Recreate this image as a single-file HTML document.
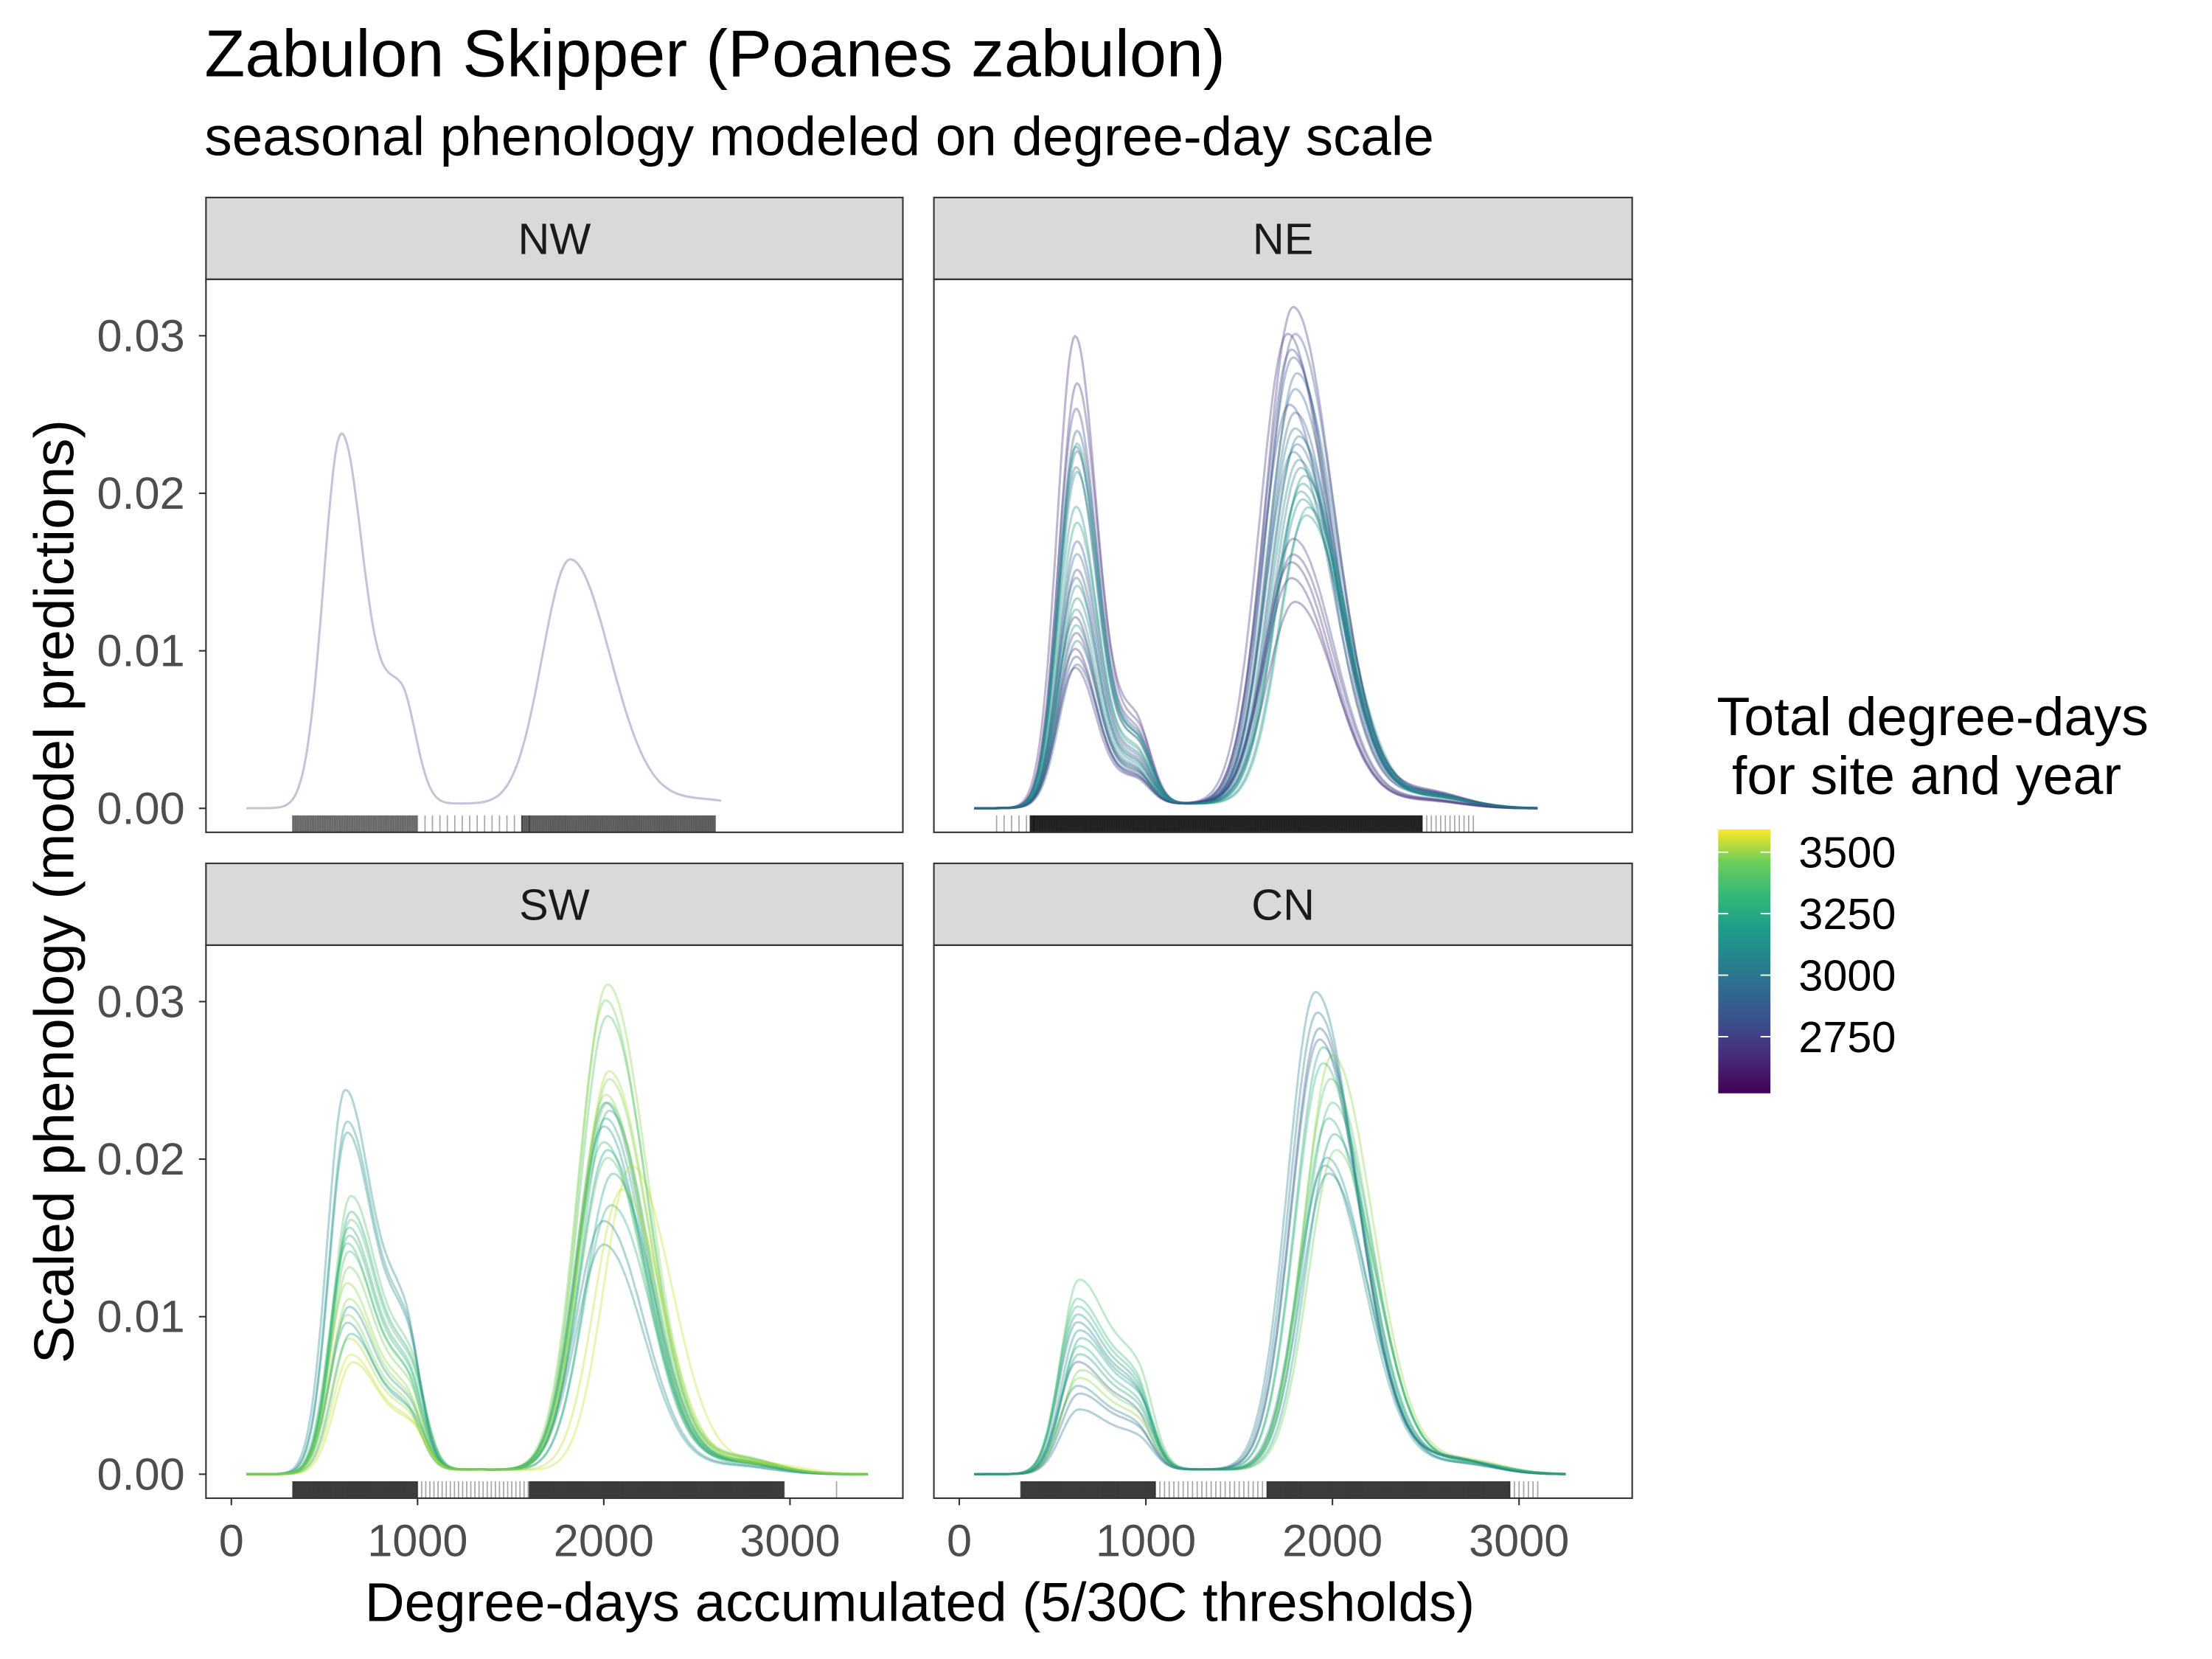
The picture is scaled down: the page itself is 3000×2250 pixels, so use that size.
<!DOCTYPE html>
<html><head><meta charset="utf-8"><style>
html,body{margin:0;padding:0;background:#fff}
svg{display:block}
text{font-family:"Liberation Sans",Arial,sans-serif}
</style></head><body>
<svg id="chart" width="3000" height="2250" viewBox="0 0 1568 1176" preserveAspectRatio="none" xmlns="http://www.w3.org/2000/svg">
<rect width="1568" height="1176" fill="#fff"/>
<text x="145" y="54" font-size="47" fill="#000">Zabulon Skipper (Poanes zabulon)</text>
<text x="145" y="110" font-size="39" fill="#000">seasonal phenology modeled on degree-day scale</text>
<text transform="translate(52,632) rotate(-90)" text-anchor="middle" font-size="40">Scaled phenology (model predictions)</text>
<text x="652" y="1149" text-anchor="middle" font-size="39">Degree-days accumulated (5/30C thresholds)</text>
<g id="panels"></g>
<g>
<text x="1217" y="521" font-size="38.5">Total degree-days</text>
<text x="1217" y="563" font-size="38.5" xml:space="preserve"> for site and year</text>
<defs><linearGradient id="vir" x1="0" y1="1" x2="0" y2="0">
<stop offset="0" stop-color="#440154"/><stop offset="0.13" stop-color="#482878"/><stop offset="0.25" stop-color="#3e4a89"/><stop offset="0.38" stop-color="#31688e"/><stop offset="0.5" stop-color="#26828e"/><stop offset="0.63" stop-color="#1f9e89"/><stop offset="0.75" stop-color="#35b779"/><stop offset="0.88" stop-color="#6ece58"/><stop offset="1" stop-color="#fde725"/></linearGradient></defs>
<rect x="1218" y="588" width="37" height="187" fill="url(#vir)"/>
<g id="cbticks"></g>
</g>
</svg>
<script>
const NS='http://www.w3.org/2000/svg';
const yTicks=[0,0.01,0.02,0.03];
const yTickLabels=['0.00','0.01','0.02','0.03'];
const xTicks=[0,1000,2000,3000];
const xTickLabels=['0','1000','2000','3000'];
const legendTicks=[2750,3000,3250,3500];
// NW
const nwVals=[2700];
const nwH1=[0.0236];const nwM1=[590];const nwH2=[0.0157];const nwM2=[1820];
// NE
const neVals=[2650,2700,2750,2800,2850,2900,2950,3000,3050,3100,2680,2720,2780,2820,2880,2920,2980,3020,3070,2660,2740,2860,2960,3040,3120,2700];
const neH1=[0.0298,0.0268,0.0252,0.0238,0.0228,0.0215,0.0225,0.0212,0.0190,0.0230,0.0120,0.0110,0.0150,0.0168,0.0145,0.0160,0.0132,0.0125,0.0140,0.0100,0.0095,0.0090,0.0105,0.0115,0.0180,0.0088];
const neM1=[620,630,625,630,625,625,630,630,625,630,620,625,630,630,625,630,630,625,630,620,625,630,630,625,630,620];
const neH2=[0.0130,0.0300,0.0290,0.0285,0.0265,0.0275,0.0240,0.0220,0.0200,0.0210,0.0155,0.0160,0.0255,0.0300,0.0225,0.0230,0.0215,0.0195,0.0185,0.0145,0.0170,0.0250,0.0235,0.0205,0.0190,0.0317];
const neM2=[1800,1760,1780,1790,1800,1810,1800,1820,1830,1850,1780,1790,1770,1800,1790,1810,1830,1840,1860,1780,1790,1800,1820,1840,1870,1790];
// SW
const swVals=[3000,3050,3100,3150,3200,3250,3300,3350,3400,3450,3500,3100,3200,3300,3400,3020,3150,3280,3380,3480];
const swH1=[0.0215,0.0105,0.0095,0.0165,0.0155,0.0145,0.0175,0.0130,0.0120,0.0085,0.0075,0.0222,0.0150,0.0160,0.0110,0.0242,0.0088,0.0140,0.0100,0.0070];
const swM1=[620,630,620,640,630,620,640,630,620,630,640,620,630,640,630,610,640,630,620,650];
const swH2=[0.0235,0.0145,0.0205,0.0225,0.0230,0.0210,0.0235,0.0300,0.0310,0.0255,0.0195,0.0220,0.0170,0.0200,0.0240,0.0160,0.0190,0.0290,0.0250,0.0180];
const swM2=[2010,2000,2020,2010,2030,2000,2020,2010,2020,2030,2150,2000,2040,2020,2010,2000,2050,2020,2030,2100];
// CN
const cnVals=[2850,2950,3000,3050,3100,3150,3200,3250,3300,3350,3400,3020,3120,3220,2900];
const cnH1=[0.0070,0.0040,0.0095,0.0090,0.0100,0.0085,0.0080,0.0110,0.0122,0.0065,0.0060,0.0055,0.0075,0.0105,0.0050];
const cnM1=[630,640,630,640,630,650,640,630,640,650,640,630,640,630,640];
const cnH2=[0.0282,0.0292,0.0305,0.0195,0.0200,0.0270,0.0225,0.0235,0.0250,0.0205,0.0265,0.0190,0.0215,0.0260,0.0275];
const cnM2=[1930,1920,1910,1960,1970,1950,1980,2000,1990,2020,2000,1980,2010,1950,1930];
// rug ranges [start,end,step]
const nwRug=[[330,1000,7],[1000,1600,40],[1560,2600,6]];
const neRug=[[200,400,40],[380,2480,3],[2480,2760,25]];
const swRug=[[330,1000,4],[1000,1600,22],[1600,2970,4],[3250,3260,20]];
const cnRug=[[330,1050,4],[1050,1650,25],[1650,2950,4],[2950,3110,25]];

const panels=[
 {name:'nw',label:'NW',x0:146,x1:640,top:140,py0:198,py1:590,vals:nwVals,h1:nwH1,m1:nwM1,h2:nwH2,m2:nwM2,rug:nwRug,ylab:true,xlab:false,end:2630,sh:0.3,rs:120,a:0.3},
 {name:'ne',label:'NE',x0:662,x1:1157,top:140,py0:198,py1:590,vals:neVals,h1:neH1,m1:neM1,h2:neH2,m2:neM2,rug:neRug,ylab:false,xlab:false,end:3100,sh:0.18,rs:115,a:0.35},
 {name:'sw',label:'SW',x0:146,x1:640,top:612,py0:670,py1:1062,vals:swVals,h1:swH1,m1:swM1,h2:swH2,m2:swM2,rug:swRug,ylab:true,xlab:true,end:3420,sh:0.35,rs:150,a:0.35},
 {name:'cn',label:'CN',x0:662,x1:1157,top:612,py0:670,py1:1062,vals:cnVals,h1:cnH1,m1:cnM1,h2:cnH2,m2:cnM2,rug:cnRug,ylab:false,xlab:true,end:3250,sh:0.4,rs:170,a:0.35}
];
const vStops=[[68,1,84],[72,40,120],[62,74,137],[49,104,142],[38,130,142],[31,158,137],[53,183,121],[110,206,88],[181,222,43],[253,231,37]];
function viridis(t){t=Math.max(0,Math.min(1,t));const f=t*(vStops.length-1);const i=Math.min(vStops.length-2,Math.floor(f));const r=f-i;const a=vStops[i],b=vStops[i+1];return `rgb(${Math.round(a[0]+(b[0]-a[0])*r)},${Math.round(a[1]+(b[1]-a[1])*r)},${Math.round(a[2]+(b[2]-a[2])*r)})`;}
const cMin=2520,cMax=3592;
function g(x,m,sl,sr){const s=x<m?sl:sr;return Math.exp(-0.5*((x-m)/s)**2);}
function shape(x,h1,m1,h2,m2,sh,rs){
 return h1*g(x,m1,95,rs)+h1*sh*g(x,m1+320,110,80)+h2*g(x,m2,150,215)+0.035*h2*g(x,m2+700,250,200)+0.0003*g(x,(m1+m2)/2,400,400);}
function el(tag,attrs,parent){const e=document.createElementNS(NS,tag);for(const k in attrs)e.setAttribute(k,attrs[k]);parent.appendChild(e);return e;}
const root=document.getElementById('panels');
panels.forEach(p=>{
 const xs=v=>(p.x0+18)+(v/1000)*132*((p.x1-p.x0)/494);
 const ys=v=>(p.py1-17)-v*(335/0.03);
 const grp=el('g',{},root);
 
 
 const strip=el('rect',{x:p.x0,y:p.top,width:p.x1-p.x0,height:p.py0-p.top,fill:'#d9d9d9',stroke:'#333','stroke-width':1.1},grp);
 
 
 const st=el('text',{x:(p.x0+p.x1)/2,y:p.top+40,'text-anchor':'middle','font-size':31,fill:'#1a1a1a'},grp);st.textContent=p.label;
 
 
 p.vals.forEach((v,i)=>{
  let d='';
  for(let x=80;x<=p.end;x+=10){const y=shape(x,p.h1[i],p.m1[i],p.h2[i],p.m2[i],p.sh,p.rs);d+=(x===80?'M':'L')+xs(x).toFixed(1)+','+ys(y).toFixed(1);}
  const path=el('path',{d:d,fill:'none',stroke:viridis((v-cMin)/(cMax-cMin)),'stroke-width':1.6,'stroke-opacity':p.a},grp);
  
  
 });
 const rg=el('g',{},grp);
 
 
 p.rug.forEach(r=>{for(let x=r[0];x<=r[1];x+=r[2]){el('line',{x1:xs(x),x2:xs(x),y1:p.py1-12,y2:p.py1,stroke:'#000','stroke-width':0.9,'stroke-opacity':r[2]<10?0.6:0.35},rg);}});
 const fr=el('rect',{x:p.x0,y:p.py0,width:p.x1-p.x0,height:p.py1-p.py0,fill:'none',stroke:'#333','stroke-width':1.1},grp);
 
 
 if(p.ylab){yTicks.forEach((t,i)=>{el('line',{x1:p.x0-5,x2:p.x0,y1:ys(t),y2:ys(t),stroke:'#333','stroke-width':1.1},grp);
  const tx=el('text',{x:p.x0-15,y:ys(t)+11,'text-anchor':'end','font-size':32,fill:'#4d4d4d'},grp);tx.textContent=yTickLabels[i];
  
  });}
 if(p.xlab){xTicks.forEach((t,i)=>{el('line',{x1:xs(t),x2:xs(t),y1:p.py1,y2:p.py1+5,stroke:'#333','stroke-width':1.1},grp);
  const tx=el('text',{x:xs(t),y:p.py1+41,'text-anchor':'middle','font-size':32,fill:'#4d4d4d'},grp);tx.textContent=xTickLabels[i];
  
  });}
});
const cb=document.getElementById('cbticks');
legendTicks.forEach(t=>{const y=775-(t-cMin)/(cMax-cMin)*187;
 el('line',{x1:1218,x2:1225,y1:y,y2:y,stroke:'#fff','stroke-width':1},cb);
 el('line',{x1:1248,x2:1255,y1:y,y2:y,stroke:'#fff','stroke-width':1},cb);
 const tx=el('text',{x:1275,y:y+11,'font-size':31,fill:'#000'},cb);tx.textContent=String(t);
 
 });
</script>
</body></html>
